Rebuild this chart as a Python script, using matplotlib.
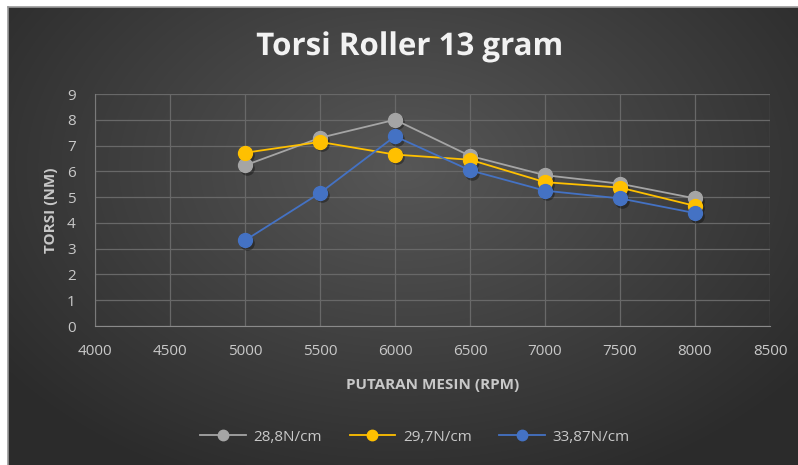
import numpy as np
import matplotlib
matplotlib.use("Agg")
import matplotlib.pyplot as plt
import matplotlib.patheffects as pe
from matplotlib.transforms import offset_copy

rpm = [5000, 5500, 6000, 6500, 7000, 7500, 8000]
s1_label = "28,8N/cm"
s1 = [6.23, 7.3, 8.0, 6.6, 5.85, 5.52, 4.95]
s2_label = "29,7N/cm"
s2 = [6.72, 7.14, 6.65, 6.45, 5.58, 5.37, 4.66]
s3_label = "33,87N/cm"
s3 = [3.32, 5.16, 7.36, 6.04, 5.25, 4.95, 4.38]
xticks = [4000, 4500, 5000, 5500, 6000, 6500, 7000, 7500, 8000, 8500]
yticks = [0, 1, 2, 3, 4, 5, 6, 7, 8, 9]

W, H = 798, 465
fig = plt.figure(figsize=(W / 100, H / 100), dpi=100)
fig.patch.set_facecolor("white")

# background with radial gradient
bg = fig.add_axes([8 / W, 0, 1 - 8 / W, 1 - 7 / H])
bg.set_axis_off()
yy, xx = np.mgrid[0:200, 0:300]
cx, cy = 150, 70
r = np.sqrt(((xx - cx) / 190.0) ** 2 + ((yy - cy) / 150.0) ** 2)
r = np.clip(r, 0, 1)
v = 0.34 - 0.17 * r
img = np.dstack([v, v, v])
bg.imshow(img, aspect="auto", extent=[0, 1, 0, 1], interpolation="bicubic")
bg.set_xlim(0, 1)
bg.set_ylim(0, 1)
fig.add_artist(plt.Line2D([8 / W, 1], [1 - 7 / H, 1 - 7 / H], color="#9a9a9a", lw=1.2))
fig.add_artist(plt.Line2D([8 / W, 8 / W], [0, 1 - 7 / H], color="#9a9a9a", lw=1.2))

ax = fig.add_axes([95 / W, 1 - 326 / H, (770 - 95) / W, (326 - 94) / H])
ax.set_facecolor("none")
ax.set_xlim(4000, 8500)
ax.set_ylim(0, 9)
ax.set_xticks(xticks)
ax.set_yticks(yticks)
ax.grid(True, color="#686868", lw=0.9)
ax.set_axisbelow(True)
for s in ax.spines.values():
    s.set_visible(False)
ax.spines["bottom"].set_visible(True)
ax.spines["bottom"].set_color("#8a8a8a")
ax.spines["left"].set_visible(True)
ax.spines["left"].set_color("#7a7a7a")
ax.tick_params(axis="x", length=0, colors="#c8c8c8", labelsize=11, pad=13)
ax.tick_params(axis="y", length=0, colors="#c8c8c8", labelsize=11, pad=14)
for lab in ax.get_xticklabels() + ax.get_yticklabels():
    lab.set_fontfamily("Open Sans")

series = [(s1, s1_label, "#a5a5a5"), (s2, s2_label, "#ffc000"), (s3, s3_label, "#4472c4")]
shadow_tr = offset_copy(ax.transData, fig=fig, x=1.2, y=-1.8, units="points")
for vals, lab, col in series:
    ax.plot(rpm, vals, color="black", alpha=0.35, lw=0, marker="o", markersize=10.5,
            markeredgewidth=0, transform=shadow_tr, zorder=2)
    ax.plot(rpm, vals, color=col, lw=1.3, marker="o", markersize=10,
            markeredgecolor=col, label=lab, zorder=3)

ax.set_xlabel("PUTARAN MESIN (RPM)", color="#c8c8c8", fontsize=11,
              fontweight="bold", fontfamily="Open Sans", labelpad=14)
ax.set_ylabel("TORSI (NM)", color="#c8c8c8", fontsize=11,
              fontweight="bold", fontfamily="Open Sans", labelpad=6)

fig.text(410 / W, 1 - 47 / H, "Torsi Roller 13 gram", ha="center", va="center",
         color="#f2f2f2", fontsize=22.5, fontweight="bold", fontfamily="Open Sans",
         path_effects=[pe.withSimplePatchShadow(offset=(1, -1.5), alpha=0.5)])

leg = fig.legend(loc="center", bbox_to_anchor=(415 / W, 1 - 437 / H), ncol=3,
                 frameon=False, markerscale=0.75, handlelength=3.0,
                 columnspacing=1.8, handletextpad=0.5,
                 prop={"family": "Open Sans", "size": 11})
for t in leg.get_texts():
    t.set_color("#c8c8c8")

fig.savefig("out.png", dpi=100)
